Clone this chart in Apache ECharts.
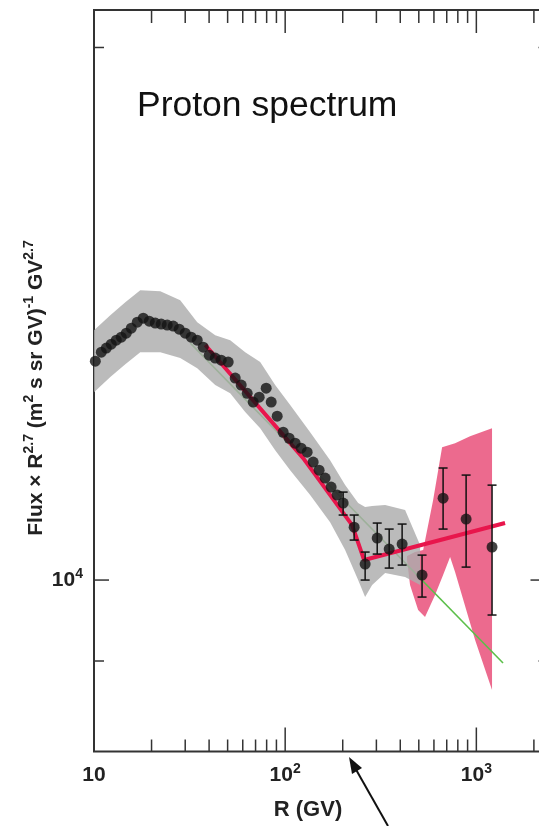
<!DOCTYPE html>
<html><head><meta charset="utf-8">
<script src="https://cdn.jsdelivr.net/npm/echarts@6/dist/echarts.min.js"></script>
<style>html,body{margin:0;padding:0;background:#fff}#c{width:539px;height:826px}</style>
</head><body><div id="c"></div>
<script>
// ---- data ----
const rigidity = [10.16,10.92,11.60,12.31,13.08,13.89,14.75,15.67,16.84,18.10,19.46,20.91,22.47,24.16,25.97,27.91,30.01,32.25,34.67,37.27,40.05,43.06,46.28,50.35,54.79,58.88,63.30,68.04,73.13,79.56,84.51,90.83,97.61,104.9,112.8,121.2,130.3,140.1,150.5,161.8,173.9,187.0,201.0,229.5,262,303,350,409,520,670,884,1208];
const fluxR27 = [13296,13453,13524,13594,13665,13718,13790,13880,13989,14061,14007,13971,13953,13935,13917,13862,13790,13718,13665,13541,13401,13349,13314,13280,13006,12888,12752,12606,12688,12837,12606,12377,12121,12027,11950,11872,11810,11659,11537,11419,11286,11170,11054,10713,10210,10561,10411,10480,10065,11125,10826,10439];
const errR  = [201.0,229.5,262,303,350,409,520,670,884,1208];
const errLo = [10883,10534,10000,10344,10157,10197,9781,10686,10170,9555];
const errHi = [11213,10883,10371,10770,10686,10756,10330,11570,11464,11315];
const grayR     = [10.0,12.17,14.58,17.46,22.22,28.25,34.67,43.06,51.58,61.79,74.01,88.66,106.2,135.1,171.8,205.9,240.8,261.9,285.0,333.3,424.0,507.7];
const grayUpper = [13842,14115,14357,14580,14563,14393,13989,13753,13665,13453,13280,12888,12557,12121,11689,11316,11054,10996,11010,11025,10953,10466];
const grayLower = [12770,13023,13243,13453,13453,13349,13176,12888,12752,12443,12185,11842,11537,11170,10783,10398,10000,9781,9935,10091,10039,9935];
const pinkUpperR = [434,478,527,594,662,774,927,1208];
const pinkUpper  = [10317,10371,10398,11096,11888,11950,12059,12185];
const pinkLowerR = [434,450,496,539,608,670,729,774,985,1208];
const pinkLower  = [10263,9935,9617,9530,9807,10065,10304,10105,9249,8666];
const redFitR = [38.2,124.2,224.0,258.8,1413];
const redFit  = [13580,11720,10741,10264,10770];
const greenFitR = [31.9,1379];
const greenFit  = [13613,8976];
const xMin = 10, xMax = 2300, yMin = 8000, yMax = 21000;
const xMajorTicks = [100,1000];
const xMinorTicks = [20,30,40,50,60,70,80,90,200,300,400,500,600,700,800,900,2000];
const yMajorTicks = [10000];
const yMinorTicks = [9000,20000];

// ---- build ----
const chart = echarts.init(document.getElementById('c'), null, {renderer:'canvas'});
function isPow10(v){const l=Math.log10(v);return Math.abs(l-Math.round(l))<1e-6;}
const FONT='Liberation Sans, Arial, sans-serif';
const supRich = {
  b:{fontFamily:FONT,fontWeight:'bold',fontSize:21,color:'#222',lineHeight:26},
  s:{fontFamily:FONT,fontWeight:'bold',fontSize:14,color:'#222',verticalAlign:'top',lineHeight:26}
};
function bandRender(xu, yu, xl, yl, color, op){
  return function(params, api){
    const pts=[];
    for(let i=0;i<xu.length;i++) pts.push(api.coord([xu[i],yu[i]]));
    for(let i=xl.length-1;i>=0;i--) pts.push(api.coord([xl[i],yl[i]]));
    return {type:'polygon',shape:{points:pts},style:{fill:color,opacity:op}};
  };
}
const tickData=[];
xMajorTicks.forEach(v=>{tickData.push([v,0,24]);tickData.push([v,1,23]);});
xMinorTicks.forEach(v=>{tickData.push([v,0,12]);tickData.push([v,1,13]);});
yMajorTicks.forEach(v=>{tickData.push([v,2,15]);tickData.push([v,3,15]);});
yMinorTicks.forEach(v=>{tickData.push([v,2,10]);tickData.push([v,3,7]);});

const option = {
  backgroundColor:'#fff',
  animation:false,
  grid:{left:94,right:-6.5,top:10,bottom:74.5,containLabel:false,outerBoundsMode:'none',show:true,borderColor:'#333',borderWidth:2,backgroundColor:'transparent'},
  xAxis:{type:'log',logBase:10,min:xMin,max:xMax,
    axisLine:{show:false},axisTick:{show:false},splitLine:{show:false},minorTick:{show:false},
    axisLabel:{margin:11,formatter:function(v){if(!isPow10(v))return '';const e=Math.round(Math.log10(v));return e===1?'{b|10}':'{b|10}{s|'+e+'}';},rich:supRich}},
  yAxis:{type:'log',logBase:10,min:yMin,max:yMax,
    axisLine:{show:false},axisTick:{show:false},splitLine:{show:false},minorTick:{show:false},
    axisLabel:{margin:11,formatter:function(v){if(!isPow10(v))return '';const e=Math.round(Math.log10(v));return '{b|10}{s|'+e+'}';},rich:supRich}},
  series:[
    {type:'custom',name:'fitband',z:1,silent:true,clip:false,data:[[pinkUpperR[0],pinkUpper[0]]],
      renderItem:bandRender(pinkUpperR,pinkUpper,pinkLowerR,pinkLower,'#ea5a82',0.9)},
    {type:'line',name:'single',z:2,silent:true,showSymbol:false,data:greenFitR.map((r,i)=>[r,greenFit[i]]),
      lineStyle:{color:'#5cbf4a',width:1.6}},
    {type:'custom',name:'syst',z:3,silent:true,clip:false,data:[[grayR[0],grayLower[0]]],
      renderItem:bandRender(grayR,grayUpper,grayR,grayLower,'#acacac',0.82)},
    {type:'line',name:'broken',z:4,silent:true,showSymbol:false,data:redFitR.map((r,i)=>[r,redFit[i]]),
      lineStyle:{color:'#e8164c',width:4}},
    {type:'custom',name:'err',z:5,silent:true,clip:false,data:errR.map((r,i)=>[r,errLo[i],errHi[i]]),
      renderItem:function(params,api){
        const lo=api.coord([api.value(0),api.value(1)]);
        const hi=api.coord([api.value(0),api.value(2)]);
        const w=4.5, st={stroke:'#111',lineWidth:1.5};
        return {type:'group',children:[
          {type:'line',shape:{x1:lo[0],y1:lo[1],x2:hi[0],y2:hi[1]},style:st},
          {type:'line',shape:{x1:lo[0]-w,y1:lo[1],x2:lo[0]+w,y2:lo[1]},style:st},
          {type:'line',shape:{x1:hi[0]-w,y1:hi[1],x2:hi[0]+w,y2:hi[1]},style:st}
        ]};
      }},
    {type:'scatter',name:'PAMELA',z:6,silent:true,symbol:'circle',symbolSize:11,
      data:rigidity.map((r,i)=>[r,fluxR27[i]]),itemStyle:{color:'#141414'}},
    {type:'custom',name:'ticks',z:7,silent:true,clip:false,data:tickData,
      renderItem:function(params,api){
        const v=api.value(0), side=api.value(1), len=api.value(2);
        let p,x2,y2;
        if(side===0){p=api.coord([v,yMin]);x2=p[0];y2=p[1]-len;}
        else if(side===1){p=api.coord([v,yMax]);x2=p[0];y2=p[1]+len;}
        else if(side===2){p=api.coord([xMin,v]);x2=p[0]+len;y2=p[1];}
        else {p=api.coord([xMax,v]);x2=p[0]-len;y2=p[1];}
        return {type:'line',shape:{x1:p[0],y1:p[1],x2:x2,y2:y2},style:{stroke:'#333',lineWidth:1.5}};
      }}
  ],
  graphic:[
    {type:'text',left:137,top:88,style:{text:'Proton spectrum',fontFamily:FONT,fontSize:35.5,fill:'#111'}},
    {type:'text',x:308,y:810,style:{text:'R (GV)',fontFamily:FONT,fontWeight:'bold',fontSize:22,fill:'#222',align:'center',verticalAlign:'middle'}},
    {type:'text',x:36,y:388,rotation:Math.PI/2,style:{
      text:'{b|Flux × R}{s|2.7}{b| (m}{s|2}{b| s sr GV)}{s|-1}{b| GV}{s|2.7}',
      align:'center',verticalAlign:'middle',
      rich:{
        b:{fontFamily:FONT,fontWeight:'bold',fontSize:21,fill:'#222',color:'#222',lineHeight:27},
        s:{fontFamily:FONT,fontWeight:'bold',fontSize:14,fill:'#222',color:'#222',verticalAlign:'top',lineHeight:27}
      }}},
    {type:'line',shape:{x1:388,y1:826,x2:354,y2:766},style:{stroke:'#111',lineWidth:2}},
    {type:'polygon',shape:{points:[[349,757],[362,768],[352,774]]},style:{fill:'#111'}}
  ]
};
chart.setOption(option);
</script>
</body></html>
